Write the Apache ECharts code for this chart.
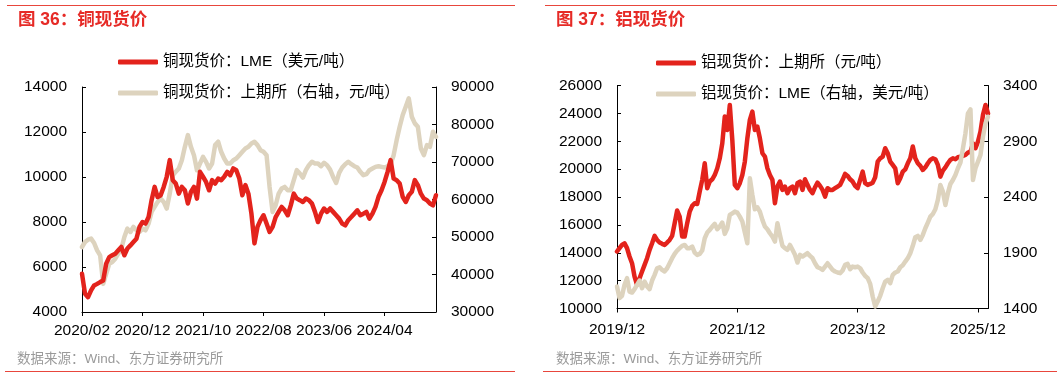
<!DOCTYPE html>
<html><head><meta charset="utf-8">
<script src="https://cdn.jsdelivr.net/npm/echarts@6/dist/echarts.min.js"></script>
<style>html,body{margin:0;padding:0;background:#fff}#c{width:1061px;height:379px}</style>
</head><body><div id="c"></div>
<script>
// ---------- data ----------
const cuNames = ['铜现货价：LME（美元/吨）', '铜现货价：上期所（右轴，元/吨）'];
const alNames = ['铝现货价：上期所（元/吨）', '铝现货价：LME（右轴，美元/吨）'];
const cuTickLabels = ['2020/02','2020/12','2021/10','2022/08','2023/06','2024/04'];
const alTickLabels = ['2019/12','2021/12','2023/12','2025/12'];

// LME copper, USD/t, half-monthly from 2020/02
const cuLME = [5700,4810,4660,4960,5180,5250,5330,5400,6150,6440,
 6520,6590,6740,6890,6520,6820,6960,7110,7260,7780,
 8000,7930,8220,8970,9560,9110,9190,9560,10010,10750,
 9860,9710,9260,9560,9410,8820,9340,9560,9040,10230,
 10010,9780,9410,9860,9710,9930,9860,10010,10230,10080,
 10380,10300,9930,9190,9640,9260,8370,7050,7780,8080,
 8300,7930,7560,7780,8220,8450,8670,8520,8300,8740,
 9260,9040,8970,8890,9040,8970,8820,8450,8000,8370,
 8600,8450,8600,8450,8300,8150,7930,7850,8080,8220,
 8370,8520,8300,8370,8450,8150,8370,8670,9120,9410,
 9780,10230,10750,9930,9860,9710,9120,8890,9190,9340,
 9860,9640,9260,9040,8970,8820,8740,9190];
// SHFE copper, CNY/t (right axis)
const cuSHFE = [47330,48660,49290,49560,48400,46430,45100,37500,40200,42870,
 43320,44210,45550,46880,50000,52230,51340,52680,51790,51340,
 52230,51790,53570,56690,58020,59360,60250,59360,57580,61590,
 66480,67370,68260,70490,74050,77170,74050,71820,67810,69600,
 71380,70050,68260,69600,74500,75400,72720,70940,69600,69600,
 70490,70940,71820,72720,73610,74050,74950,75400,74500,73160,
 72720,71820,63360,56680,58470,61590,62930,63360,62480,62480,
 65150,67820,66930,65860,67820,69150,70050,69600,69600,68880,
 69770,69150,67970,66010,64430,67100,68530,69420,70050,69420,
 68880,68530,67370,66480,66740,67820,68260,68700,68880,68700,
 68530,68880,69420,71820,75840,79400,82520,84750,86980,82080,
 80300,79400,73610,71820,74500,74050,78060,76720];
// SHFE aluminium, CNY/t, half-monthly from 2019/12
const alSHFE = [14090,14330,14560,14680,14330,13730,13250,12290,11700,12170,
 12650,13130,13610,14210,14680,15210,14920,14730,14640,14560,
 14730,14920,15210,16120,17030,16600,15160,15160,16120,16950,
 17360,17550,17500,18390,19230,20420,18630,19110,19270,19580,
 20060,20780,21850,23770,22810,24600,22090,18870,18630,18990,
 19580,20540,22210,23530,24130,22810,23050,22210,21140,20900,
 20060,19580,19230,17550,18750,19110,18510,18750,18270,18630,
 18750,18270,18990,19110,18510,19270,18870,18510,18270,18700,
 19030,18800,18510,18030,18630,18510,18510,18630,18750,18870,
 19230,19660,19510,19270,19110,18800,18630,19230,19820,18990,
 18870,18940,19030,19420,20540,20780,20900,21500,21140,20540,
 20300,20060,18990,19340,19820,19990,20420,20780,21620,20780,
 20420,20230,19940,20130,20420,20660,20780,20710,20300,19460,
 19890,20130,20420,20660,20780,20710,20850,20900,20950,21020,
 21190,21260,21850,21500,21970,22690,23890,24600,24000];
// LME aluminium, USD/t (right axis)
const alLME = [1597,1493,1514,1612,1672,1552,1543,1573,1612,1651,
 1582,1642,1597,1573,1651,1702,1761,1770,1746,1732,
 1761,1806,1851,1890,1920,1941,1962,1970,1941,1941,
 1956,1902,1881,1890,1920,2030,2081,2105,2135,2159,
 2111,2135,2171,2069,2120,2239,2254,2269,2260,2224,
 2180,2081,1985,2568,2419,2290,2308,2269,2195,2135,
 2111,2075,2045,2000,2165,2060,1962,1941,1926,1970,
 1926,1881,1812,1881,1866,1881,1896,1872,1851,1806,
 1770,1761,1746,1776,1806,1776,1746,1732,1723,1717,
 1741,1791,1800,1752,1776,1770,1776,1761,1723,1693,
 1672,1621,1508,1418,1463,1514,1582,1642,1657,1627,
 1702,1723,1732,1770,1788,1821,1851,1896,1962,2039,
 2051,2015,2060,2120,2171,2224,2248,2290,2374,2508,
 2448,2329,2434,2517,2553,2598,2658,2708,2837,2971,
 3150,3186,2553,2658,2717,2777,2941,3061,3120];

// ---------- helpers ----------
function halfMonths(y, m, n) {
  const out = [];
  for (let k = 0; k < n; k++) {
    const mm = m - 1 + Math.floor(k / 2);
    const yy = y + Math.floor(mm / 12);
    const mo = (mm % 12) + 1;
    out.push(yy + '/' + String(mo).padStart(2, '0') + '/' + (k % 2 ? '16' : '01'));
  }
  return out;
}
const cuDates = halfMonths(2020, 2, cuLME.length);
const alDates = halfMonths(2019, 12, alSHFE.length);

const FONT = '"Liberation Sans", Arial, "Noto Sans CJK SC", sans-serif';
const RED = '#E3231C';
const BEIGE = '#DDD3BE';
const LINE_RED = '#E8463C';

function tickFn(labels) {
  return function (idx, v) { return v.endsWith('/01') && labels.includes(v.slice(0, 7)); };
}
function xAxis(grid, data, labels, margin) {
  return {
    type: 'category', gridIndex: grid, data: data, boundaryGap: false,
    axisLine: { show: true, lineStyle: { color: '#000', width: 1 } },
    axisTick: { show: true, inside: false, length: 4, interval: tickFn(labels), lineStyle: { color: '#000' } },
    axisLabel: { interval: tickFn(labels), formatter: v => v.slice(0, 7), color: '#000', fontSize: 15.5, margin: margin, fontFamily: FONT },
    splitLine: { show: false }
  };
}
function yAxis(grid, pos, min, max, interval) {
  return {
    type: 'value', gridIndex: grid, position: pos, min: min, max: max, interval: interval,
    axisLine: { show: true, lineStyle: { color: '#000', width: 1 } },
    axisTick: { show: true, inside: true, length: 4, lineStyle: { color: '#000' } },
    axisLabel: { color: '#000', fontSize: 15.5, margin: 15, fontFamily: FONT, formatter: v => String(v) },
    splitLine: { show: false }
  };
}
function lineSeries(name, data, color, xi, yi, z) {
  return {
    type: 'line', name: name, data: data, xAxisIndex: xi, yAxisIndex: yi,
    showSymbol: false, symbol: 'none', z: z,
    lineStyle: { color: color, width: 4.5, join: 'round', cap: 'round' },
    itemStyle: { color: color }
  };
}
function legend(left, top, names) {
  return {
    left: left, top: top, orient: 'vertical', data: names, itemGap: 15, padding: 0,
    itemWidth: 40, itemHeight: 5, itemTextGap: 4, icon: 'roundRect',
    selectedMode: false,
    textStyle: { color: '#000', fontSize: 15.5, lineHeight: 16, fontFamily: FONT }
  };
}

const chart = echarts.init(document.getElementById('c'), null, { renderer: 'canvas' });
chart.setOption({
  animation: false,
  backgroundColor: '#fff',
  title: [
    { text: '图 36：铜现货价', left: 18, top: 11, padding: 0, textStyle: { color: '#E62A26', fontSize: 17.5, fontWeight: 'bold', fontFamily: FONT } },
    { text: '图 37：铝现货价', left: 556, top: 11, padding: 0, textStyle: { color: '#E62A26', fontSize: 17.5, fontWeight: 'bold', fontFamily: FONT } }
  ],
  legend: [legend(118, 54, cuNames), legend(656, 55, alNames)],
  grid: [
    { left: 82, top: 87, width: 354, height: 225 },
    { left: 617, top: 85.5, width: 371, height: 223 }
  ],
  xAxis: [xAxis(0, cuDates, cuTickLabels, 11), xAxis(1, alDates, alTickLabels, 13)],
  yAxis: [
    yAxis(0, 'left', 4000, 14000, 2000),
    yAxis(0, 'right', 30000, 90000, 10000),
    yAxis(1, 'left', 10000, 26000, 2000),
    yAxis(1, 'right', 1400, 3400, 500)
  ],
  series: [
    lineSeries(cuNames[1], cuSHFE, BEIGE, 0, 1, 2),
    lineSeries(cuNames[0], cuLME, RED, 0, 0, 3),
    lineSeries(alNames[0], alSHFE, RED, 1, 2, 2),
    lineSeries(alNames[1], alLME, BEIGE, 1, 3, 3)
  ],
  graphic: [
    { type: 'line', shape: { x1: 7, y1: 5.5, x2: 515, y2: 5.5 }, style: { stroke: LINE_RED, lineWidth: 1 } },
    { type: 'line', shape: { x1: 545, y1: 5.5, x2: 1057, y2: 5.5 }, style: { stroke: LINE_RED, lineWidth: 1 } },
    { type: 'line', shape: { x1: 5, y1: 371.5, x2: 515, y2: 371.5 }, style: { stroke: LINE_RED, lineWidth: 1 } },
    { type: 'line', shape: { x1: 543, y1: 371.5, x2: 1057, y2: 371.5 }, style: { stroke: LINE_RED, lineWidth: 1 } },
    { type: 'text', left: 17, top: 353, style: { text: '数据来源：Wind、东方证券研究所', fill: '#9a9a9a', font: '13.5px ' + FONT } },
    { type: 'text', left: 556, top: 353, style: { text: '数据来源：Wind、东方证券研究所', fill: '#9a9a9a', font: '13.5px ' + FONT } }
  ]
});
</script>
</body></html>
